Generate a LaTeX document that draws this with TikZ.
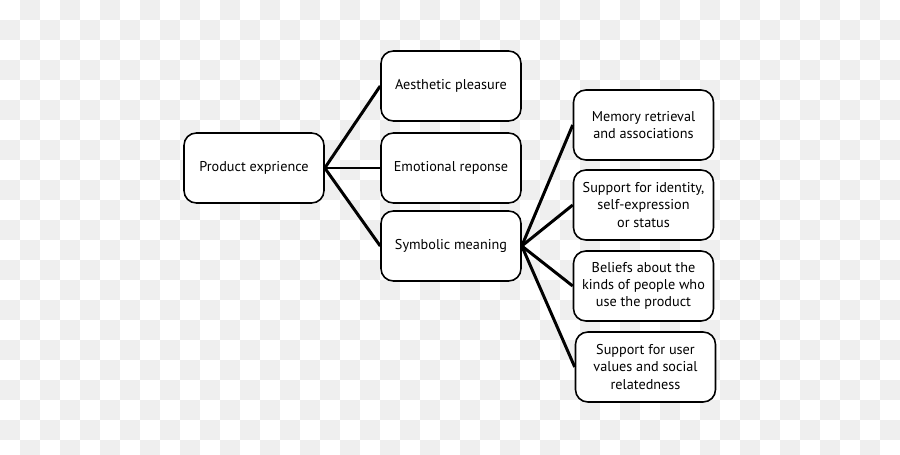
\documentclass[tikz,border=0pt]{standalone}
\usepackage{fontspec}
\setmainfont{PT Sans}
\usepackage{xcolor}
\usetikzlibrary{positioning}

\definecolor{checkgray}{HTML}{EFEFEF}

\begin{document}
\begin{tikzpicture}[
    x=0.02cm,y=-0.02cm,
    box/.style={rectangle,rounded corners=7pt,draw=black,line width=0.9pt,fill=white,
      minimum width=2.8cm,minimum height=1.4cm,align=center,
      font=\fontsize{8.1}{9.7}\selectfont,inner sep=2pt},
    link/.style={line width=1.7pt,black}
]
\useasboundingbox (0,0) rectangle (900,455);
\clip (0,0) rectangle (900,455);

% checker background
\fill[white] (0,0) rectangle (900,455);
\foreach \i in {0,...,44}
  \foreach \j in {0,...,22}{
    \pgfmathtruncatemacro{\odd}{mod(\i+\j,2)}
    \ifnum\odd=1 \fill[checkgray] (20*\i,20*\j) rectangle ++(20,20); \fi
  }

\node[box] (prod) at (254,168) {Product exprience};

\node[box] (aesth) at (451,86) {Aesthetic pleasure};
\node[box] (emot) at (451,168) {Emotional reponse};
\node[box] (symb) at (451,246) {Symbolic meaning};

\node[box] (memory) at (643.5,125) {Memory retrieval\\and associations};
\node[box] (identity) at (643.5,205) {Support for identity,\\self-expression\\or status};
\node[box] (beliefs) at (643.5,286) {Beliefs about the\\kinds of people who\\use the product};
\node[box] (values) at (645.5,367) {Support for user\\values and social\\relatedness};

\draw[link] (prod.east) -- (aesth.west);
\draw[link] (prod.east) -- (emot.west);
\draw[link] (prod.east) -- (symb.west);

\draw[link] (symb.east) -- (memory.west);
\draw[link] (symb.east) -- (identity.west);
\draw[link] (symb.east) -- (beliefs.west);
\draw[link] (symb.east) -- (values.west);

\end{tikzpicture}
\end{document}
